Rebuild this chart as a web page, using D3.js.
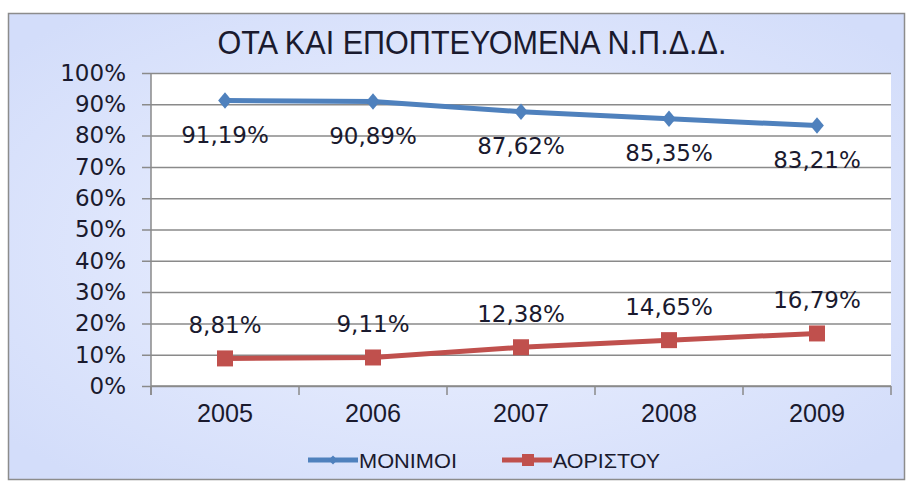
<!DOCTYPE html>
<html lang="el">
<head>
<meta charset="UTF-8">
<script src="https://d3js.org/d3.v7.min.js"></script>
<style>
  body { margin: 0; background: #fff; }
  svg text { fill: #1a1a2e; }
</style>
<title>OTA</title>
</head>
<body>
<div class="canvas"></div>
<script>
const years = ['2005', '2006', '2007', '2008', '2009']
const monimoi = [91.19, 90.89, 87.62, 85.35, 83.21]
const aoristou = [8.81, 9.11, 12.38, 14.65, 16.79]
const yTicks = [0, 10, 20, 30, 40, 50, 60, 70, 80, 90, 100]
const titleText = 'ΟΤΑ ΚΑΙ ΕΠΟΠΤΕΥΟΜΕΝΑ Ν.Π.Δ.Δ.'
const seriesNames = ['ΜΟΝΙΜΟΙ', 'ΑΟΡΙΣΤΟΥ']

const W = 908, H = 483
const svg = d3.select('.canvas').append('svg')
  .attr('width', W).attr('height', H)

const defs = svg.append('defs')
const grad = defs.append('radialGradient').attr('id', 'bg')
  .attr('cx', '50%').attr('cy', '50%').attr('r', '65%')
grad.append('stop').attr('offset', '0%').attr('stop-color', '#eef2ff')
grad.append('stop').attr('offset', '100%').attr('stop-color', '#d3ddfa')

// chart box
svg.append('rect')
  .attr('x', 8.5).attr('y', 13.5).attr('width', 896).attr('height', 466)
  .attr('fill', 'url(#bg)').attr('stroke', '#8c8c8c').attr('stroke-width', 1.5)

const ml = 151, mr = 17, mt = 73, mb = 97
const gw = W - ml - mr, gh = H - mt - mb

const x = d3.scaleBand().domain(years).range([0, gw])
const y = d3.scaleLinear().domain([0, 100]).range([gh, 0])

const g = svg.append('g').attr('transform', `translate(${ml},${mt})`)

g.append('rect').attr('width', gw).attr('height', gh).attr('fill', '#fff')

// gridlines + y axis
const yAxis = d3.axisLeft(y).tickValues(yTicks).tickFormat(d => d + '%')
  .tickSize(-gw).tickSizeOuter(0).tickPadding(25)
const yG = g.append('g').call(yAxis)
yG.select('.domain').remove()
yG.selectAll('line').attr('stroke', '#8a8a8a').attr('stroke-width', 1.5).attr('x1', -9)
yG.selectAll('text')
  .style('font-family', '"DejaVu Sans", Verdana, sans-serif')
  .style('font-size', '23px').attr('fill', '#1a1a2e')

g.append('line').attr('x1', 0).attr('x2', 0).attr('y1', 0).attr('y2', gh + 9)
  .attr('stroke', '#8a8a8a').attr('stroke-width', 1.5)

// x axis
const xG = g.append('g').attr('transform', `translate(0,${gh})`)
xG.append('line').attr('x1', 0).attr('x2', gw).attr('stroke', '#8a8a8a').attr('stroke-width', 1.5)
xG.selectAll('.tk').data(years.concat(['end'])).enter().append('line')
  .attr('x1', (d, i) => i * x.bandwidth()).attr('x2', (d, i) => i * x.bandwidth())
  .attr('y1', 0).attr('y2', 9).attr('stroke', '#8a8a8a').attr('stroke-width', 1.5)
xG.selectAll('.yl').data(years).enter().append('text')
  .attr('x', d => x(d) + x.bandwidth() / 2).attr('y', 36)
  .attr('text-anchor', 'middle')
  .attr('textLength', 56).attr('lengthAdjust', 'spacingAndGlyphs')
  .style('font-family', '"Liberation Sans", Arial, sans-serif')
  .style('font-size', '25px')
  .text(d => d)

const cx = d => x(d) + x.bandwidth() / 2
const line = d3.line().x((d, i) => cx(years[i])).y(d => y(d))

const labelFont = g => g.style('font-family', '"DejaVu Sans", Verdana, sans-serif').style('font-size', '23px')

// series 1
g.append('path').datum(monimoi).attr('d', line)
  .attr('fill', 'none').attr('stroke', '#4f81bd').attr('stroke-width', 5)
g.selectAll('.dm').data(monimoi).enter().append('path')
  .attr('d', d3.symbol(d3.symbolDiamond2, 120))
  .attr('transform', (d, i) => `translate(${cx(years[i])},${y(d)}) scale(1,1.2)`)
  .attr('fill', '#4f81bd')
g.selectAll('.lm').data(monimoi).enter().append('text')
  .attr('x', (d, i) => cx(years[i])).attr('y', d => y(d) + 42)
  .attr('text-anchor', 'middle').call(labelFont)
  .text(d => d.toFixed(2).replace('.', ',') + '%')

// series 2
g.selectAll('.la').data(aoristou).enter().append('text')
  .attr('x', (d, i) => cx(years[i])).attr('y', d => y(d) - 25)
  .attr('text-anchor', 'middle').call(labelFont)
  .text(d => d.toFixed(2).replace('.', ',') + '%')
g.append('path').datum(aoristou).attr('d', line)
  .attr('fill', 'none').attr('stroke', '#c0504d').attr('stroke-width', 5)
g.selectAll('.sq').data(aoristou).enter().append('rect')
  .attr('x', (d, i) => cx(years[i]) - 8).attr('y', d => y(d) - 8)
  .attr('width', 16).attr('height', 16).attr('fill', '#c0504d')

// title
svg.append('text').attr('x', 472).attr('y', 54).attr('text-anchor', 'middle')
  .attr('textLength', 509).attr('lengthAdjust', 'spacingAndGlyphs')
  .style('font-family', '"Liberation Sans", Arial, sans-serif')
  .style('font-size', '33px')
  .text(titleText)

// legend
const legend = svg.append('g').attr('transform', 'translate(0,460)')
const lx = [308, 502]
const colors = ['#4f81bd', '#c0504d']
seriesNames.forEach((name, i) => {
  legend.append('line').attr('x1', lx[i]).attr('x2', lx[i] + 50)
    .attr('stroke', colors[i]).attr('stroke-width', 5)
  if (i === 0) {
    legend.append('path').attr('d', d3.symbol(d3.symbolDiamond2, 50))
      .attr('transform', `translate(${lx[i] + 25},0)`).attr('fill', colors[i])
  } else {
    legend.append('rect').attr('x', lx[i] + 20).attr('y', -6).attr('width', 12).attr('height', 12)
      .attr('fill', colors[i])
  }
  legend.append('text').attr('x', lx[i] + 51).attr('y', 8)
    .attr('textLength', i === 0 ? 98 : 107).attr('lengthAdjust', 'spacingAndGlyphs')
    .style('font-family', '"Liberation Sans", Arial, sans-serif')
    .style('font-size', '21px')
    .text(name)
})
</script>
</body>
</html>
